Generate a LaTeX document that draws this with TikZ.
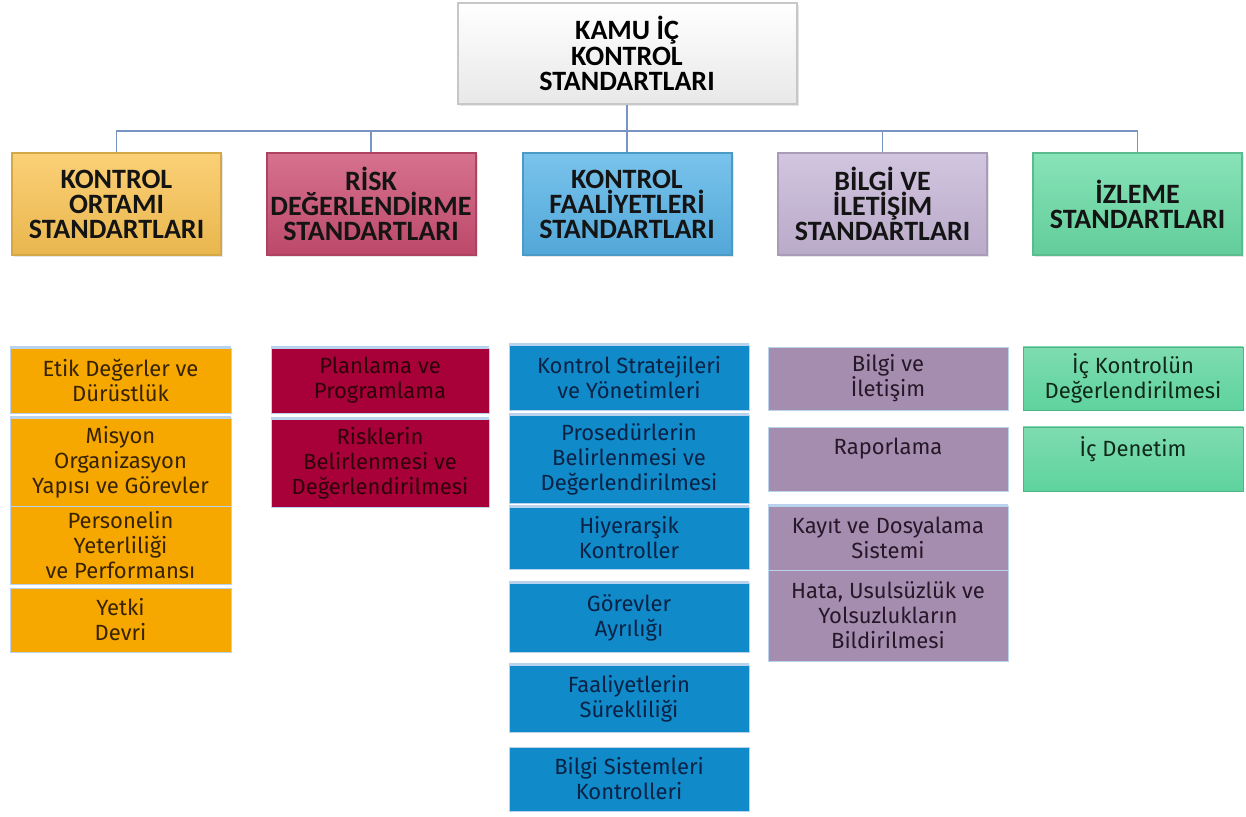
\documentclass[tikz,border=0pt]{standalone}
\usepackage{fontspec}
\setmainfont{Fira Sans}
\newfontfamily\headfont{Carlito}
\usetikzlibrary{shadows}

\definecolor{hyellow}{RGB}{250,196,84}
\definecolor{hpink}{RGB}{203,78,114}
\definecolor{hblue}{RGB}{88,180,232}
\definecolor{hlilac}{RGB}{199,183,216}
\definecolor{hgreen}{RGB}{106,220,166}
\definecolor{iorange}{RGB}{246,168,0}
\definecolor{icrimson}{RGB}{168,0,56}
\definecolor{iblue}{RGB}{16,138,200}
\definecolor{ililac}{RGB}{165,141,176}
\definecolor{igreen}{RGB}{94,211,157}
\definecolor{linkblue}{RGB}{120,148,196}
\definecolor{rimblue}{RGB}{185,210,238}

\tikzset{
	topbox/.style={draw=black!22, line width=1pt, top color=white, bottom color=black!9,
		drop shadow={opacity=0.2, shadow xshift=1pt, shadow yshift=-1pt},
		align=center, inner sep=1pt, font=\headfont\bfseries\fontsize{14}{12.6}\selectfont},
	head/.style={draw=#1!85!black, line width=1pt, top color=#1!80!white, bottom color=#1!93!black,
		drop shadow={opacity=0.2, shadow xshift=1pt, shadow yshift=-1pt},
		minimum width=104.5pt, minimum height=51pt, align=center, inner sep=1pt,
		text=black!92, font=\headfont\bfseries\fontsize{14}{12.5}\selectfont},
	item/.style={draw=rimblue, line width=0.4pt, align=center, inner sep=1pt,
		font=\fontsize{11}{12.5}\selectfont},
	colA/.style={item, fill=iorange, text={rgb,255:red,55;green,35;blue,0}, minimum width=110.5pt},
	colB/.style={item, fill=icrimson, text={rgb,255:red,45;green,0;blue,12}, minimum width=109pt},
	colC/.style={item, fill=iblue, text={rgb,255:red,10;green,34;blue,70}, minimum width=120pt},
	colD/.style={item, fill=ililac, text={rgb,255:red,38;green,24;blue,40}, minimum width=120pt},
	colE/.style={item, top color=igreen!80!white, bottom color=igreen, draw=igreen!85!black,
		text={rgb,255:red,15;green,40;blue,25}, minimum width=110pt},
	strip/.style={draw=rimblue, line width=1.3pt},
	link/.style={draw=linkblue, line width=0.8pt}
}

\begin{document}
\begin{tikzpicture}[x=0.5pt, y=-0.5pt]
	
	\useasboundingbox (0,0) rectangle (1246,817);
	
	%top level
	\node[topbox, minimum width=169.5pt, minimum height=50.5pt] (top) at (627,53.5){KAMU İÇ\\KONTROL\\STANDARTLARI};
	
	%standards level
	\node[head=hyellow] (h1) at (116.5,204){KONTROL\\ORTAMI\\STANDARTLARI};
	\node[head=hpink] (h2) at (371,204){RİSK\\DEĞERLENDİRME\\STANDARTLARI};
	\node[head=hblue] (h3) at (627,204){KONTROL\\FAALİYETLERİ\\STANDARTLARI};
	\node[head=hlilac] (h4) at (882.5,204){BİLGİ VE\\İLETİŞİM\\STANDARTLARI};
	\node[head=hgreen] (h5) at (1137.5,204){İZLEME\\STANDARTLARI};
	
	%control environment
	\node[colA, minimum height=32.5pt] (e1) at (120.5,380.5){Etik Değerler ve\\Dürüstlük};
	\node[colA, minimum height=44pt] (e2) at (120.5,462){Misyon\\Organizasyon\\Yapısı ve Görevler};
	\node[colA, minimum height=39pt] (e3) at (120.5,545){Personelin\\Yeterliliği\\ve Performansı};
	\node[colA, minimum height=32pt] (e4) at (120.5,620){Yetki\\Devri};
	
	%risk assessment
	\node[colB, minimum height=32.5pt] (r1) at (380,380.5){Planlama ve\\Programlama};
	\node[colB, minimum height=44pt] (r2) at (380,463){Risklerin\\Belirlenmesi ve\\Değerlendirilmesi};
	
	%control activities
	\node[colC, minimum height=32.5pt] (k1) at (629,377.5){Kontrol Stratejileri\\ve Yönetimleri};
	\node[colC, minimum height=44pt] (k2) at (629,459){Prosedürlerin\\Belirlenmesi ve\\Değerlendirilmesi};
	\node[colC, minimum height=31pt] (k3) at (629,538){Hiyerarşik\\Kontroller};
	\node[colC, minimum height=34.5pt] (k4) at (629,617.5){Görevler\\Ayrılığı};
	\node[colC, minimum height=33.5pt] (k5) at (629,698.5){Faaliyetlerin\\Sürekliliği};
	\node[colC, minimum height=32pt] (k6) at (629,779){Bilgi Sistemleri\\Kontrolleri};
	
	%information and communication
	\node[colD, minimum height=31.5pt] (b1) at (888,378.5){Bilgi ve\\İletişim};
	\node[colD, minimum height=32pt] (b2) at (888,459){Raporlama\\~};
	\node[colD, minimum height=32pt] (b3) at (888,538){Kayıt ve Dosyalama\\Sistemi};
	\node[colD, minimum height=45.5pt] (b4) at (888,615.5){Hata, Usulsüzlük ve\\Yolsuzlukların\\Bildirilmesi};
	
	%monitoring
	\node[colE, minimum height=31.5pt] (i1) at (1133,378.5){İç Kontrolün\\Değerlendirilmesi};
	\node[colE, minimum height=32pt] (i2) at (1133,459){İç Denetim\\~};
	
	%light strips on the item tops
	\foreach \n in {e1,e2,r1,r2,k1,k2,k3,k4,k5,b3}
		\draw[strip] (\n.north west) -- (\n.north east);
	
	%tree lines
	\coordinate (bar) at (627,131);
	\draw[link] (top.south) -- (bar);
	\draw[link] (h1.north) |- (bar) -| (h5.north);
	\draw[link] (h2.north) -- (h2.north |- bar);
	\draw[link] (h3.north) -- (bar);
	\draw[link] (h4.north) -- (h4.north |- bar);
	
\end{tikzpicture}
\end{document}
